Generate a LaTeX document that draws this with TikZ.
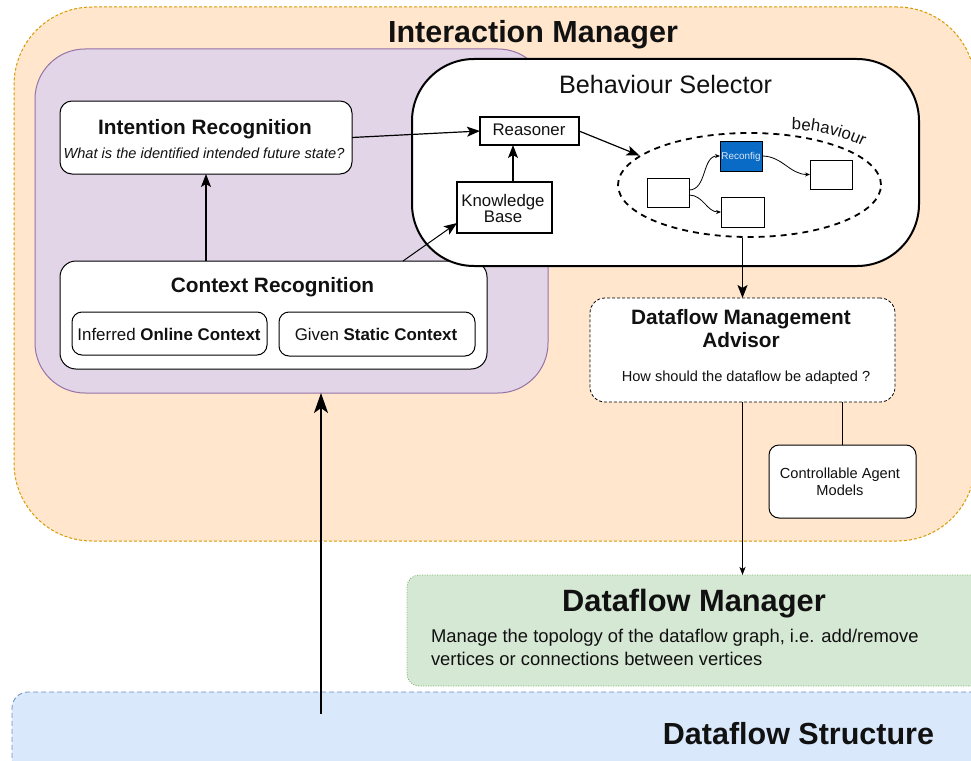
\documentclass[tikz,border=0pt]{standalone}
\usepackage{fontspec}
\setmainfont{Liberation Sans}
\usetikzlibrary{arrows.meta,shapes.geometric,decorations.text,calc}

\definecolor{imfill}{HTML}{FFE6CC}
\definecolor{imline}{HTML}{D79B00}
\definecolor{crfill}{HTML}{E1D5E7}
\definecolor{crline}{HTML}{9673A6}
\definecolor{dmfill}{HTML}{D5E8D4}
\definecolor{dmline}{HTML}{82B366}
\definecolor{dsfill}{HTML}{DAE8FC}
\definecolor{dsline}{HTML}{6C8EBF}
\definecolor{recfill}{HTML}{0A6BC6}
\definecolor{rectext}{HTML}{D6E6F7}
\definecolor{ink}{HTML}{111111}

\newcommand{\setfs}[1]{\fontsize{#1}{#1}\selectfont}

\tikzset{
  box/.style={draw=black, fill=white, line width=1pt, inner sep=0pt, outer sep=0pt},
  frame/.style={line width=1pt, inner sep=0pt, outer sep=0pt},
  lbl/.style={anchor=base, inner sep=0pt, outer sep=0pt, text=ink},
  arr/.style={draw=black, line width=1.2pt, -{Stealth[length=13pt,width=10pt,inset=3pt]}},
  arrsmall/.style={draw=black, line width=1pt, -{Stealth[length=8pt,width=6pt,inset=2pt]}},
  arrbig/.style={draw=black, line width=1.8pt, -{Stealth[length=20pt,width=14pt,inset=5pt]}},
  tiny/.style={draw=black, line width=0.8pt, -{Stealth[length=5pt,width=4pt]}},
}

\begin{document}
\begin{tikzpicture}[x=1pt,y=1pt]
\useasboundingbox (0,0) rectangle (971,-760);
\fill[white] (0,0) rectangle (971,-760);
\clip (0,0) rectangle (971,-760);

% ---- large frames ----
\node[frame, draw=imline, fill=imfill, dash pattern=on 3pt off 2pt, rounded corners=78pt,
      minimum width=961pt, minimum height=534pt] (im) at (494.5,-274) {};
\node[frame, draw=dmline, fill=dmfill, line width=0.8pt, dash pattern=on 1pt off 1.5pt, rounded corners=12pt,
      minimum width=583pt, minimum height=111pt] (dm) at (698.5,-630.5) {};
\node[frame, draw=dsline, fill=dsfill, line width=0.8pt, dash pattern=on 5pt off 3pt, rounded corners=16pt,
      minimum width=978pt, minimum height=108pt] (ds) at (501,-746) {};

% ---- recognition group ----
\node[frame, draw=crline, fill=crfill, rounded corners=50pt,
      minimum width=513pt, minimum height=344pt] (cr) at (291.5,-221) {};
\node[box, rounded corners=12pt, minimum width=292pt, minimum height=73pt] (intent) at (206,-137.5) {};
\node[box, rounded corners=16pt, minimum width=427pt, minimum height=108pt] (ctx) at (273.5,-315) {};
\node[box, rounded corners=10pt, minimum width=195pt, minimum height=43pt] (online) at (169.5,-333.5) {};
\node[box, rounded corners=10pt, minimum width=196pt, minimum height=44pt] (static) at (377,-334) {};

% ---- behaviour selector ----
\node[box, line width=2pt, rounded corners=62pt, minimum width=507pt, minimum height=207pt] (bs) at (665.5,-162.5) {};
\node[box, line width=1.2pt, minimum width=99pt, minimum height=28pt] (reasoner) at (529.5,-131) {};
\node[box, line width=1.8pt, minimum width=95pt, minimum height=51pt] (kb) at (504.5,-207.5) {};
\node[draw=black, ellipse, dash pattern=on 6pt off 5pt, line width=1.8pt, inner sep=0pt,
      minimum width=263pt, minimum height=104pt] (beh) at (749.5,-185) {};
\node[box, minimum width=42pt, minimum height=29pt] (lb) at (668,-192.5) {};
\node[box, fill=recfill, minimum width=42pt, minimum height=30pt] (rc) at (741,-156) {};
\node[box, minimum width=42pt, minimum height=29pt] (rb) at (831,-174.5) {};
\node[box, minimum width=43pt, minimum height=30pt] (bb) at (742.5,-212) {};

% ---- advisor and agent models ----
\node[box, dash pattern=on 3pt off 2pt, line width=0.8pt, rounded corners=15pt,
      minimum width=305pt, minimum height=104pt] (dma) at (742.5,-350) {};
\node[box, rounded corners=10pt, minimum width=147pt, minimum height=73pt] (cam) at (842.5,-481.5) {};

% ---- texts ----
\node[lbl, font=\setfs{30.5}\bfseries] (t-im) at (533,-42) {Interaction Manager};
\node[lbl, font=\setfs{20.8}\bfseries] (t-intent) at (205,-134) {Intention Recognition};
\node[lbl, font=\setfs{14.6}\itshape] (t-intentq) at (204,-158) {What is the identified intended future state?};
\node[lbl, font=\setfs{20.8}\bfseries] (t-ctx) at (272.5,-292) {Context Recognition};
\node[lbl, font=\setfs{16.9}] (t-online) at (169,-340) {Inferred \textbf{Online Context}};
\node[lbl, font=\setfs{16.9}] (t-static) at (376,-340) {Given \textbf{Static Context}};
\node[lbl, font=\setfs{25.2}] (t-bs) at (665.5,-93) {Behaviour Selector};
\node[lbl, font=\setfs{16.8}] (t-reasoner) at (529,-135) {Reasoner};
\node[lbl, font=\setfs{16.8}] (t-kb1) at (503,-206) {Knowledge};
\node[lbl, font=\setfs{16.8}] (t-kb2) at (503,-222) {Base};
\node[lbl, font=\setfs{9.9}, text=rectext] (t-rc) at (741,-159.5) {Reconfig};
\path[decorate, decoration={text along path, text align=center,
      text={|\setfs{16.8}\color{ink}|behaviour}}]
  (786,-130) .. controls (814,-129) and (845,-136) .. (868,-149);
\node[lbl, font=\setfs{20.8}\bfseries] (t-dma1) at (741,-324) {Dataflow Management};
\node[lbl, font=\setfs{20.8}\bfseries] (t-dma2) at (741,-347) {Advisor};
\node[lbl, font=\setfs{14.6}] (t-dmaq) at (746,-381) {How should the dataflow be adapted ?};
\node[lbl, font=\setfs{14.6}] (t-cam1) at (840,-478) {Controllable Agent};
\node[lbl, font=\setfs{14.6}] (t-cam2) at (840,-495) {Models};
\node[lbl, font=\setfs{30.8}\bfseries] (t-dm) at (694,-611) {Dataflow Manager};
\node[lbl, anchor=base west, font=\setfs{18.4}] (t-dm1) at (431,-642) {Manage the topology of the dataflow graph, i.e. add/remove};
\node[lbl, anchor=base west, font=\setfs{18.4}] (t-dm2) at (431,-665) {vertices or connections between vertices};
\node[lbl, font=\setfs{30.5}\bfseries] (t-ds) at (798.5,-744) {Dataflow Structure};

% ---- connectors ----
\coordinate (dsup) at (321,-714);
\draw[arr] (intent.east) -- (reasoner.west);
\draw[arr] (intent.south |- ctx.north) -- (intent.south);
\draw[arr, line width=1pt] ([xshift=129.5pt]ctx.north) -- ([yshift=10pt]kb.south west);
\draw[arr] ([xshift=8.5pt]kb.north) -- ([xshift=-16.5pt]reasoner.south);
\draw[arr] (reasoner.east) -- (beh.165);
\draw[arr] (beh.south -| dma.north) -- (dma.north);
\draw[arrsmall] (dma.south) -- (dma.south |- dm.north);
\draw[line width=1pt] (cam.north |- dma.south) -- (cam.north);
\draw[arrbig] (dsup) -- (dsup |- cr.south);
\draw[tiny] ([yshift=2.5pt]lb.east) to[out=0,in=180] (rc.west);
\draw[tiny] ([yshift=-2.5pt]lb.east) to[out=0,in=180] (bb.west);
\draw[tiny] (rc.east) to[out=0,in=180] (rb.west);
\end{tikzpicture}
\end{document}
